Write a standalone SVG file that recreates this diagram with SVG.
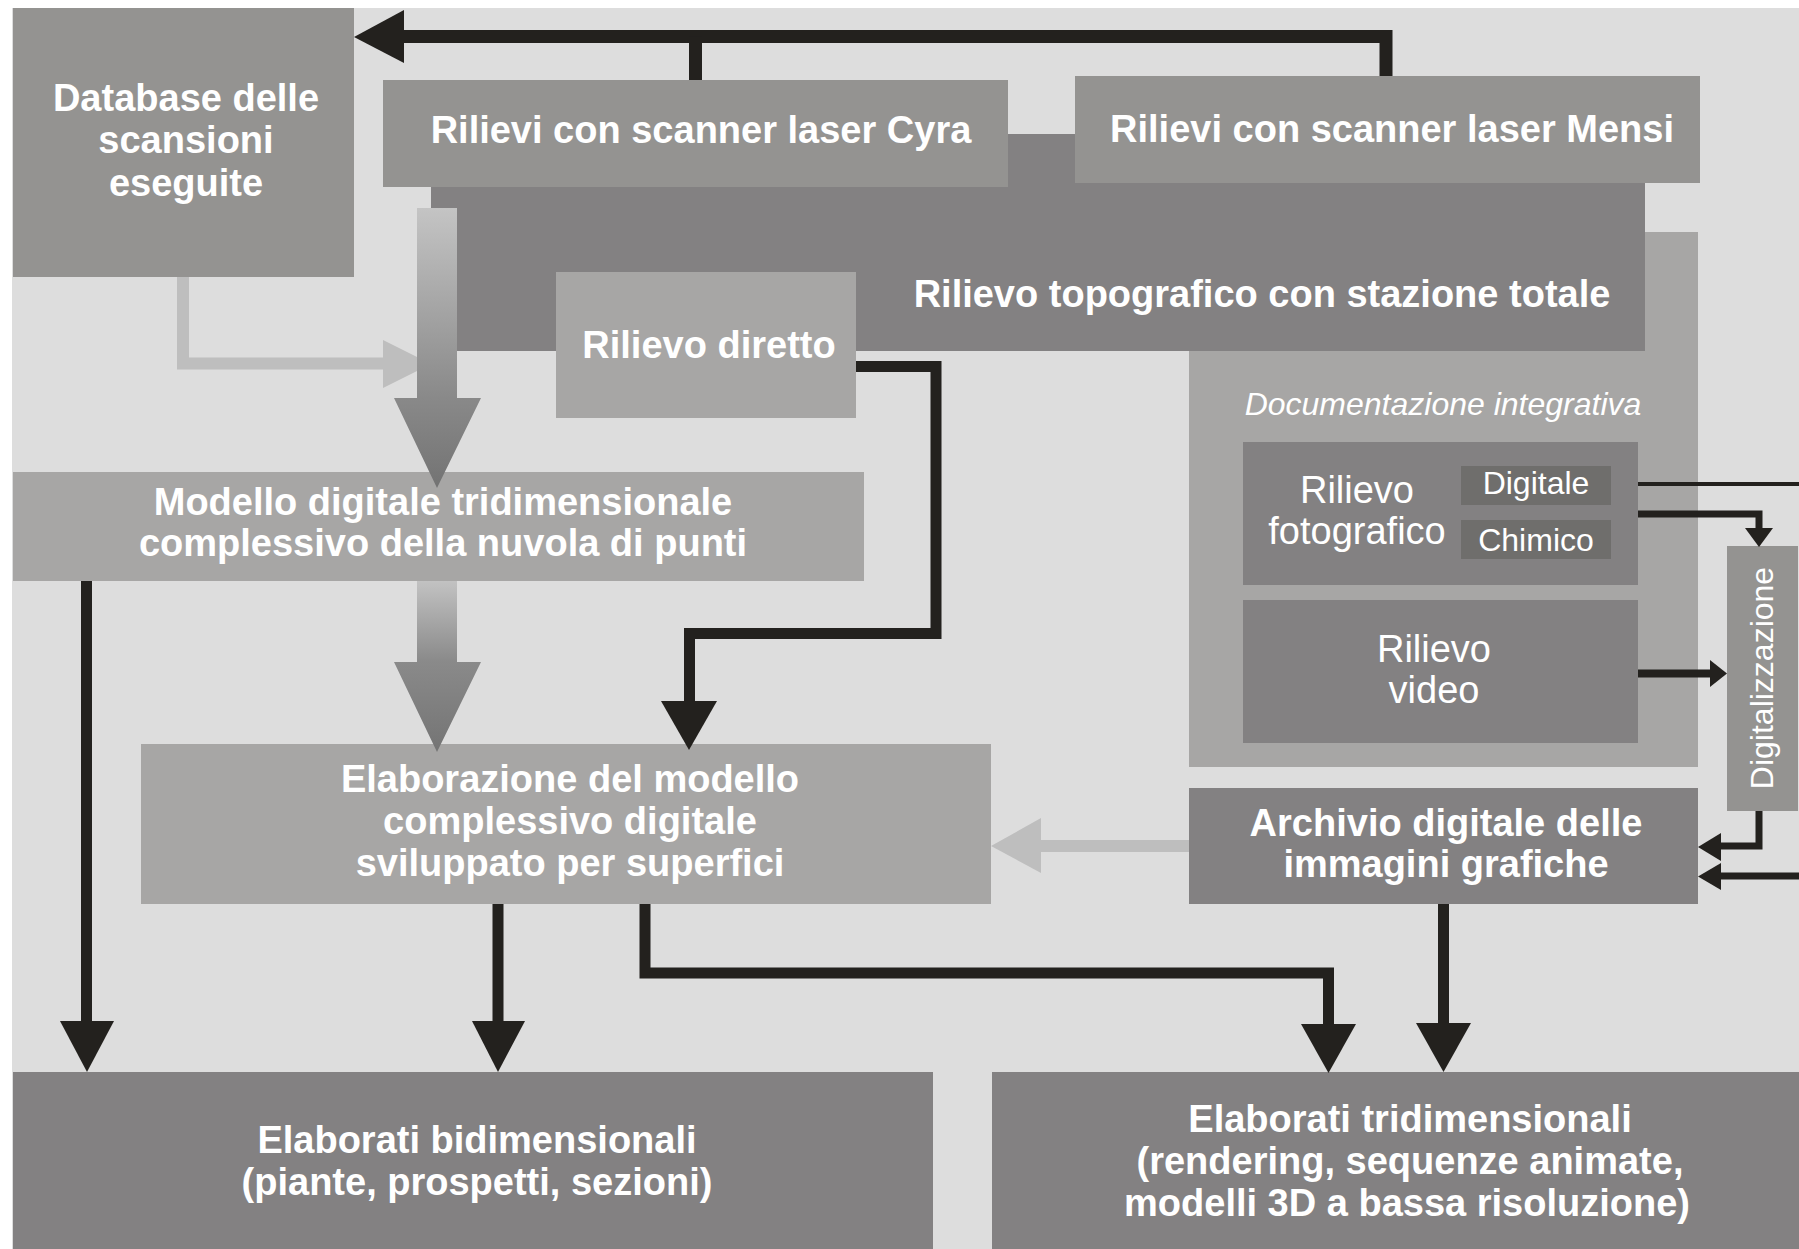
<svg xmlns="http://www.w3.org/2000/svg" width="1799" height="1249" viewBox="0 0 1799 1249">
  <style>
    .b { font-family: "Liberation Sans", Arial, sans-serif; font-weight: bold; font-size: 38px; fill: #ffffff; text-anchor: middle; }
    .r { font-family: "Liberation Sans", Arial, sans-serif; font-size: 38px; fill: #ffffff; text-anchor: middle; }
    .s { font-family: "Liberation Sans", Arial, sans-serif; font-size: 32px; fill: #ffffff; text-anchor: middle; }
    .i { font-family: "Liberation Sans", Arial, sans-serif; font-style: italic; font-size: 32px; fill: #ffffff; text-anchor: middle; }
    .mid { fill: #949391; }
    .light { fill: #a7a6a5; }
    .dark { fill: #838182; }
    .deep { fill: #6f6e6c; }
    .ln { fill: none; stroke: #23211e; stroke-linejoin: miter; }
    .hd { fill: #23211e; }
    .gl { fill: none; stroke: #bebebe; stroke-width: 12; }
    .gh { fill: #bebebe; }
  </style>
  <defs>
    <linearGradient id="flowA" gradientUnits="userSpaceOnUse" x1="0" y1="208" x2="0" y2="488">
      <stop offset="0" stop-color="#c4c4c4"/>
      <stop offset="0.68" stop-color="#898989"/>
      <stop offset="1" stop-color="#737373"/>
    </linearGradient>
    <linearGradient id="flowB" gradientUnits="userSpaceOnUse" x1="0" y1="581" x2="0" y2="752">
      <stop offset="0" stop-color="#c2c2c2"/>
      <stop offset="0.47" stop-color="#8a8a8a"/>
      <stop offset="1" stop-color="#747474"/>
    </linearGradient>
  </defs>

  <!-- canvas -->
  <rect x="12" y="8" width="1787" height="1241" fill="#dddddd"/>

  <!-- supplementary documentation panel -->
  <g id="documentazione">
    <rect class="light" x="1189" y="232" width="509" height="535"/>
    <text class="i" x="1443" y="415">Documentazione integrativa</text>
  </g>

  <!-- total station survey (backdrop behind the scanners) -->
  <g id="topografico">
    <rect class="dark" x="431" y="134" width="1214" height="217"/>
    <text class="b" x="1262" y="307">Rilievo topografico con stazione totale</text>
  </g>

  <g id="cyra">
    <rect class="mid" x="383" y="80" width="625" height="107"/>
    <text class="b" x="701" y="143">Rilievi con scanner laser Cyra</text>
  </g>

  <g id="mensi">
    <rect class="mid" x="1075" y="76" width="625" height="107"/>
    <text class="b" x="1392" y="142">Rilievi con scanner laser Mensi</text>
  </g>

  <g id="database">
    <rect class="mid" x="13" y="8" width="341" height="269"/>
    <text class="b" x="186" y="111">Database delle</text>
    <text class="b" x="186" y="153">scansioni</text>
    <text class="b" x="186" y="196">eseguite</text>
  </g>

  <g id="diretto">
    <rect class="light" x="556" y="272" width="300" height="146"/>
    <text class="b" x="709" y="358">Rilievo diretto</text>
  </g>

  <g id="modello">
    <rect class="light" x="13" y="472" width="851" height="109"/>
    <text class="b" x="443" y="515">Modello digitale tridimensionale</text>
    <text class="b" x="443" y="556">complessivo della nuvola di punti</text>
  </g>

  <g id="elaborazione">
    <rect class="light" x="141" y="744" width="850" height="160"/>
    <text class="b" x="570" y="792">Elaborazione del modello</text>
    <text class="b" x="570" y="834">complessivo digitale</text>
    <text class="b" x="570" y="876">sviluppato per superfici</text>
  </g>

  <g id="fotografico">
    <rect class="dark" x="1243" y="442" width="395" height="143"/>
    <text class="r" x="1357" y="503">Rilievo</text>
    <text class="r" x="1357" y="544">fotografico</text>
    <rect class="deep" x="1461" y="466" width="150" height="39"/>
    <text class="s" x="1536" y="494">Digitale</text>
    <rect class="deep" x="1461" y="520" width="150" height="39"/>
    <text class="s" x="1536" y="551">Chimico</text>
  </g>

  <g id="video">
    <rect class="dark" x="1243" y="600" width="395" height="143"/>
    <text class="r" x="1434" y="662">Rilievo</text>
    <text class="r" x="1434" y="703">video</text>
  </g>

  <g id="digitalizzazione">
    <rect class="mid" x="1727" y="546" width="71" height="265"/>
    <text class="s" transform="translate(1773,678) rotate(-90)" x="0" y="0">Digitalizzazione</text>
  </g>

  <g id="archivio">
    <rect class="dark" x="1189" y="788" width="509" height="116"/>
    <text class="b" x="1446" y="836">Archivio digitale delle</text>
    <text class="b" x="1446" y="877">immagini grafiche</text>
  </g>

  <g id="bidimensionali">
    <rect class="dark" x="13" y="1072" width="920" height="177"/>
    <text class="b" x="477" y="1153">Elaborati bidimensionali</text>
    <text class="b" x="477" y="1195">(piante, prospetti, sezioni)</text>
  </g>

  <g id="tridimensionali">
    <rect class="dark" x="992" y="1072" width="807" height="177"/>
    <text class="b" x="1410" y="1132">Elaborati tridimensionali</text>
    <text class="b" x="1410" y="1174">(rendering, sequenze animate,</text>
    <text class="b" x="1407" y="1216">modelli 3D a bassa risoluzione)</text>
  </g>

  <g id="connectors">
    <!-- scanners feed the scan database -->
    <path class="ln" stroke-width="13" d="M404,36.5 H1386 V76"/>
    <path class="ln" stroke-width="13" d="M695.5,36.5 V80"/>
    <polygon class="hd" points="354,37 404,10 404,63"/>

    <!-- database into the point cloud flow -->
    <path class="gl" d="M183,277 V363.5 H384"/>
    <polygon class="gh" points="383,340 383,388 431,364"/>

    <!-- shaded flow arrows -->
    <path fill="url(#flowA)" d="M417,208 H457 V398 H481 L437,488 L394,398 H417 Z"/>
    <path fill="url(#flowB)" d="M417,581 H457 V662 H481 L437,752 L394,662 H417 Z"/>

    <!-- direct survey into surface model -->
    <path class="ln" stroke-width="11" d="M856,366.5 H936 V633.5 H689.5 V702"/>
    <polygon class="hd" points="661,701 717,701 689,750"/>

    <!-- point cloud to 2D drawings -->
    <path class="ln" stroke-width="11" d="M86.5,581 V1022"/>
    <polygon class="hd" points="60,1021 114,1021 87,1072"/>

    <!-- surface model outputs -->
    <path class="ln" stroke-width="11" d="M498,904 V1022"/>
    <polygon class="hd" points="472,1021 525,1021 498,1072"/>
    <path class="ln" stroke-width="11" d="M645,904 V973 H1328.5 V1025"/>
    <polygon class="hd" points="1301,1024 1356,1024 1328.5,1073"/>

    <!-- image archive to 3D outputs -->
    <path class="ln" stroke-width="11" d="M1443.5,904 V1024"/>
    <polygon class="hd" points="1416,1023 1471,1023 1443.5,1072"/>

    <!-- image archive back into the surface model -->
    <path class="gl" d="M1189,846 H1040"/>
    <polygon class="gh" points="1041,818 1041,873 991,846"/>

    <!-- photo / video digitisation -->
    <path class="ln" stroke-width="4" d="M1638,484 H1799"/>
    <path class="ln" stroke-width="7" d="M1638,514 H1759 V530"/>
    <polygon class="hd" points="1745,528 1773,528 1759,547"/>
    <path class="ln" stroke-width="8" d="M1638,673.5 H1711"/>
    <polygon class="hd" points="1710,660 1710,687 1727,673.5"/>
    <path class="ln" stroke-width="7" d="M1759,811 V846 H1720"/>
    <polygon class="hd" points="1721,833 1721,861 1698,847"/>
    <path class="ln" stroke-width="7" d="M1799,876 H1720"/>
    <polygon class="hd" points="1721,863 1721,890 1698,876.5"/>
  </g>
</svg>
